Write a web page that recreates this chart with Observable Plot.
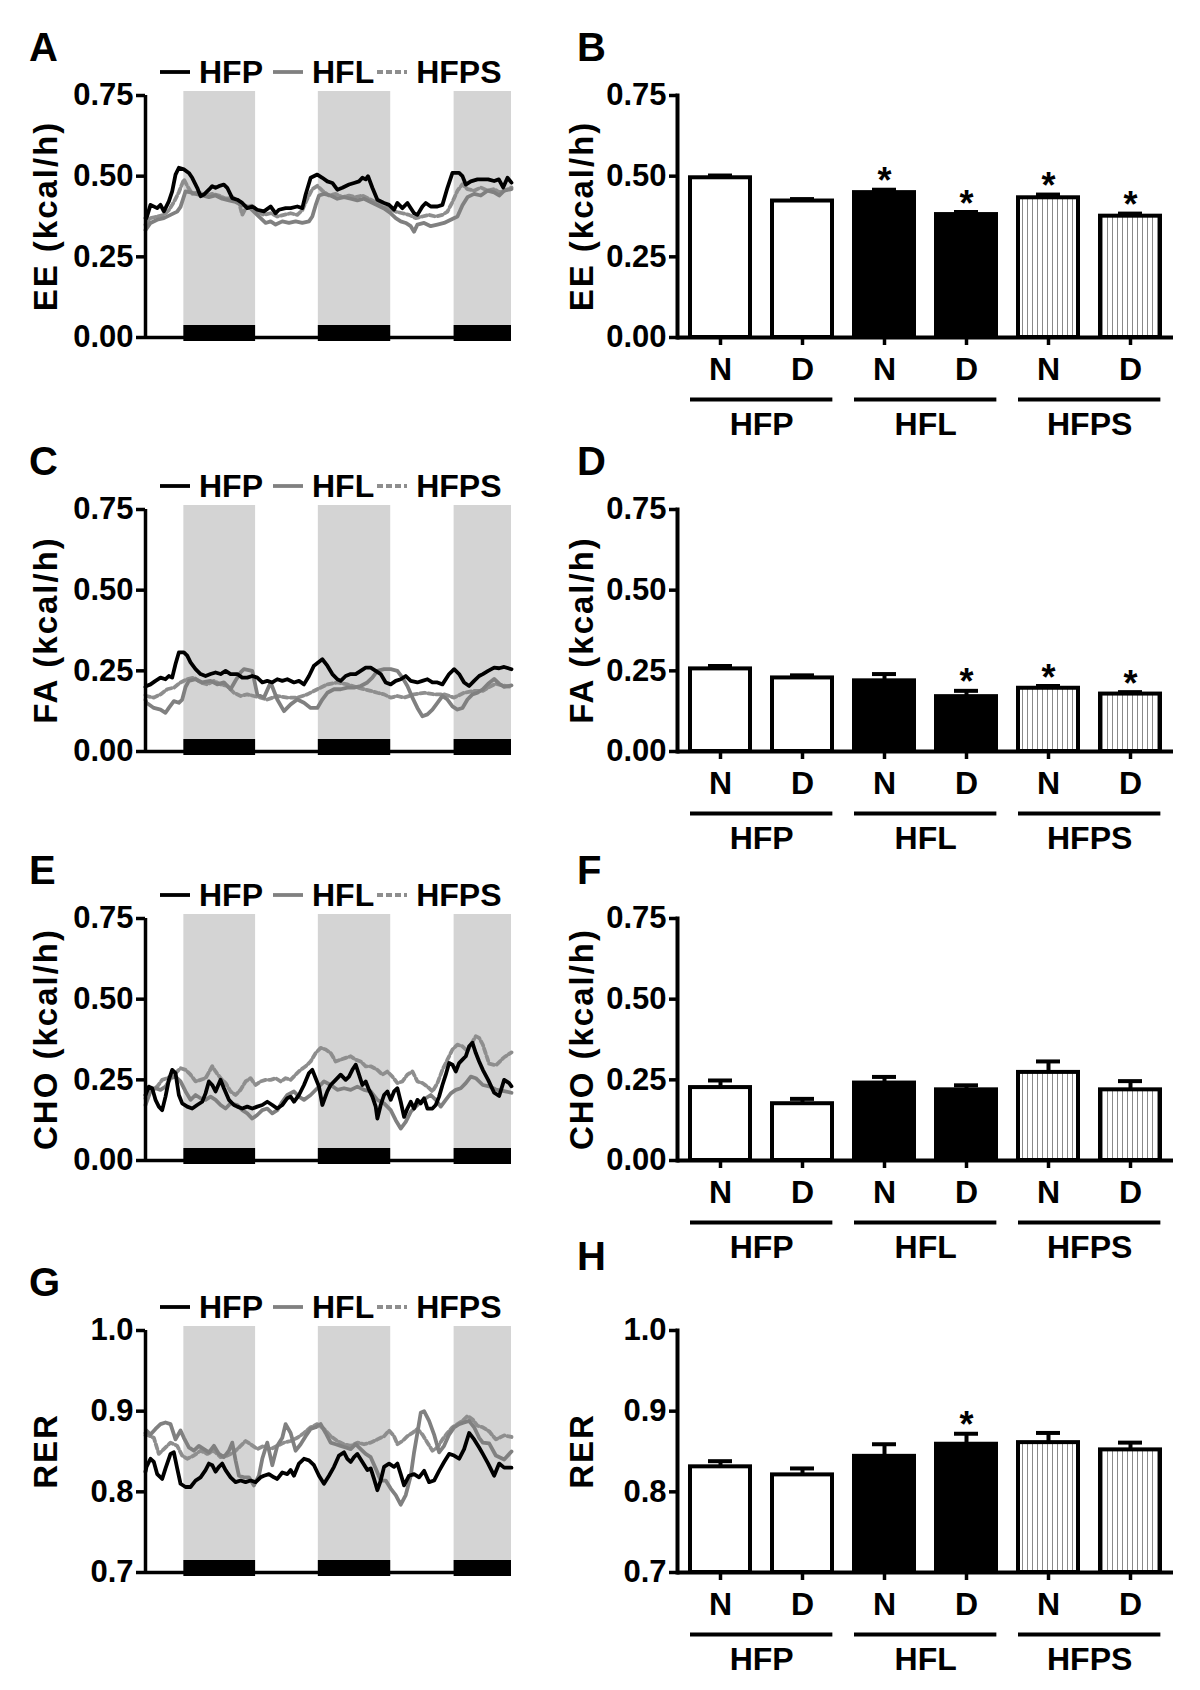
<!DOCTYPE html>
<html>
<head>
<meta charset="utf-8">
<script src="https://cdn.jsdelivr.net/npm/d3@7"></script>
<script src="https://cdn.jsdelivr.net/npm/@observablehq/plot@0.6"></script>
<style>
  body { margin: 0; background: #fff; }
  #fig { position: relative; width: 1200px; height: 1690px; background: #fff;
         font-family: "Liberation Sans", Arial, sans-serif; font-weight: bold; color: #000; }
  .abs { position: absolute; }
  .letter { font-size: 40px; line-height: 1; transform: translateY(-50%); }
  .ytitle { font-size: 33px; letter-spacing: 2px; line-height: 1; white-space: nowrap; transform: translate(-50%, -50%) rotate(-90deg); }
  .legend { display: flex; align-items: center; font-size: 32px; line-height: 1; height: 34px; transform: translateY(-50%); }
  .legend svg { display: block; }
</style>
</head>
<body>
<div id="fig"></div>
<script>
// ---------- time course data: [time (arbitrary units), value] ----------
const darkStart = [115, 518, 925];
const darkEnd = [330, 735, 1097];
const tMax = 1097;

const eeHFP = [[0,0.37],[3,0.370],[15,0.411],[35,0.401],[45,0.411],[55,0.391],[70,0.422],[80,0.453],[90,0.505],[100,0.526],[115,0.521],[130,0.510],[140,0.495],[155,0.464],[165,0.438],[175,0.443],[190,0.458],[200,0.469],[210,0.464],[220,0.469],[235,0.474],[245,0.464],[260,0.432],[275,0.427],[290,0.417],[305,0.401],[320,0.406],[335,0.396],[355,0.391],[375,0.406],[390,0.385],[400,0.396],[420,0.401],[435,0.401],[455,0.406],[470,0.401],[480,0.443],[495,0.495],[515,0.505],[530,0.495],[545,0.484],[560,0.479],[575,0.458],[590,0.464],[610,0.474],[625,0.479],[640,0.484],[650,0.495],[660,0.490],[667,0.500],[680,0.464],[695,0.427],[715,0.417],[730,0.411],[745,0.396],[755,0.417],[770,0.401],[785,0.417],[805,0.385],[815,0.380],[830,0.406],[840,0.417],[855,0.406],[875,0.406],[890,0.411],[905,0.464],[920,0.510],[940,0.510],[950,0.500],[960,0.474],[975,0.484],[995,0.490],[1011,0.490],[1027,0.49],[1045,0.485],[1059,0.49],[1072,0.465],[1085,0.495],[1097,0.48]];
const eeHFL = [[0,0.333],[15,0.355],[35,0.365],[55,0.37],[75,0.38],[95,0.39],[105,0.405],[120,0.453],[135,0.45],[150,0.445],[170,0.44],[190,0.435],[210,0.44],[230,0.43],[250,0.425],[270,0.42],[290,0.41],[310,0.405],[330,0.385],[345,0.37],[360,0.355],[375,0.36],[390,0.35],[410,0.36],[430,0.355],[450,0.36],[470,0.355],[490,0.36],[500,0.375],[510,0.41],[520,0.44],[535,0.445],[555,0.44],[575,0.43],[595,0.435],[615,0.43],[635,0.425],[655,0.43],[675,0.42],[695,0.41],[715,0.40],[735,0.385],[750,0.37],[765,0.36],[780,0.355],[795,0.345],[805,0.328],[815,0.35],[835,0.355],[855,0.345],[875,0.35],[895,0.355],[915,0.365],[935,0.375],[950,0.41],[965,0.435],[985,0.445],[1005,0.44],[1025,0.455],[1045,0.45],[1060,0.44],[1075,0.455],[1097,0.46]];
const eeHFPS = [[0,0.35],[15,0.37],[35,0.375],[55,0.38],[70,0.395],[85,0.42],[100,0.45],[115,0.49],[125,0.47],[140,0.445],[160,0.45],[180,0.44],[200,0.445],[220,0.44],[240,0.43],[260,0.435],[280,0.42],[290,0.38],[300,0.40],[320,0.41],[335,0.39],[355,0.38],[375,0.385],[395,0.375],[415,0.38],[435,0.385],[455,0.38],[470,0.395],[485,0.43],[500,0.46],[515,0.47],[530,0.455],[550,0.44],[570,0.445],[590,0.435],[610,0.44],[630,0.435],[650,0.44],[670,0.43],[690,0.42],[710,0.405],[730,0.40],[750,0.39],[770,0.385],[790,0.38],[810,0.37],[830,0.375],[850,0.38],[870,0.375],[890,0.38],[905,0.39],[920,0.42],[935,0.455],[950,0.475],[965,0.46],[985,0.455],[1005,0.465],[1025,0.455],[1045,0.46],[1060,0.45],[1075,0.455],[1097,0.465]];

const faHFP = [[0,0.20],[3,0.203],[15,0.208],[30,0.219],[45,0.229],[60,0.224],[70,0.234],[80,0.229],[90,0.271],[100,0.307],[115,0.307],[125,0.297],[135,0.276],[150,0.255],[165,0.240],[180,0.234],[195,0.240],[210,0.245],[225,0.240],[240,0.25],[255,0.240],[275,0.240],[290,0.229],[305,0.229],[320,0.234],[335,0.229],[350,0.214],[365,0.219],[380,0.214],[395,0.224],[410,0.219],[425,0.224],[445,0.214],[460,0.219],[475,0.208],[490,0.234],[505,0.266],[530,0.286],[545,0.266],[560,0.240],[575,0.224],[585,0.219],[600,0.234],[615,0.240],[630,0.240],[645,0.25],[660,0.26],[675,0.26],[690,0.25],[705,0.240],[720,0.214],[735,0.208],[750,0.219],[765,0.224],[780,0.234],[795,0.219],[815,0.214],[830,0.219],[845,0.224],[860,0.214],[875,0.214],[890,0.208],[910,0.240],[925,0.255],[940,0.240],[955,0.214],[970,0.203],[985,0.219],[1000,0.234],[1011,0.240],[1027,0.25],[1045,0.26],[1060,0.258],[1075,0.262],[1097,0.255]];
const faHFL = [[0,0.16],[3,0.151],[25,0.135],[45,0.130],[60,0.120],[70,0.135],[85,0.156],[100,0.151],[110,0.161],[120,0.20],[130,0.219],[150,0.224],[170,0.214],[195,0.219],[215,0.208],[235,0.214],[255,0.193],[270,0.22],[285,0.245],[295,0.255],[320,0.25],[335,0.177],[355,0.167],[375,0.214],[395,0.161],[415,0.125],[435,0.146],[455,0.161],[475,0.151],[495,0.135],[515,0.135],[530,0.161],[545,0.182],[565,0.193],[585,0.193],[605,0.198],[625,0.198],[645,0.203],[665,0.214],[680,0.229],[695,0.25],[715,0.255],[735,0.255],[755,0.25],[770,0.229],[785,0.203],[800,0.167],[815,0.135],[830,0.109],[845,0.115],[860,0.130],[875,0.151],[890,0.172],[905,0.161],[920,0.140],[935,0.130],[950,0.135],[965,0.161],[980,0.177],[995,0.182],[1011,0.193],[1027,0.21],[1045,0.225],[1060,0.21],[1075,0.20],[1097,0.205]];
const faHFPS = [[0,0.175],[3,0.172],[25,0.167],[45,0.177],[65,0.193],[85,0.198],[105,0.214],[125,0.224],[145,0.229],[165,0.214],[185,0.208],[205,0.219],[225,0.208],[245,0.203],[265,0.182],[285,0.172],[305,0.177],[325,0.172],[345,0.167],[365,0.161],[395,0.172],[425,0.167],[455,0.167],[485,0.177],[515,0.193],[545,0.208],[575,0.214],[605,0.208],[635,0.198],[655,0.193],[675,0.188],[695,0.182],[715,0.177],[735,0.167],[755,0.172],[775,0.167],[805,0.177],[835,0.182],[865,0.177],[895,0.177],[925,0.167],[955,0.182],[985,0.188],[1011,0.188],[1030,0.20],[1050,0.21],[1070,0.205],[1097,0.20]];

const choHFP = [[0,0.203],[10,0.229],[20,0.224],[30,0.188],[40,0.167],[50,0.156],[60,0.198],[70,0.25],[80,0.281],[90,0.271],[100,0.203],[110,0.177],[125,0.167],[140,0.161],[155,0.172],[170,0.182],[180,0.208],[190,0.245],[200,0.234],[210,0.214],[225,0.25],[235,0.224],[250,0.188],[265,0.172],[275,0.167],[290,0.161],[305,0.167],[320,0.161],[335,0.167],[350,0.172],[365,0.182],[380,0.172],[395,0.161],[410,0.172],[425,0.193],[435,0.198],[445,0.182],[460,0.203],[475,0.234],[490,0.271],[500,0.281],[510,0.255],[520,0.229],[530,0.172],[545,0.214],[555,0.234],[570,0.25],[585,0.266],[600,0.25],[610,0.26],[620,0.281],[630,0.297],[640,0.266],[650,0.234],[660,0.245],[670,0.219],[680,0.198],[690,0.167],[695,0.130],[705,0.172],[715,0.203],[725,0.214],[735,0.188],[745,0.214],[755,0.224],[765,0.182],[775,0.135],[785,0.161],[795,0.182],[805,0.161],[815,0.188],[825,0.177],[835,0.193],[845,0.161],[860,0.161],[870,0.172],[880,0.198],[890,0.234],[900,0.266],[910,0.302],[920,0.297],[930,0.276],[940,0.302],[950,0.3125],[960,0.323],[970,0.354],[980,0.365],[990,0.333],[1000,0.307],[1011,0.281],[1027,0.25],[1045,0.21],[1060,0.20],[1075,0.25],[1090,0.24],[1097,0.23]];
const choHFL = [[0,0.172],[15,0.214],[30,0.224],[45,0.219],[60,0.229],[75,0.255],[90,0.26],[105,0.245],[120,0.214],[135,0.188],[150,0.203],[165,0.193],[180,0.188],[195,0.198],[210,0.188],[225,0.172],[240,0.161],[255,0.177],[275,0.172],[290,0.156],[305,0.146],[320,0.130],[335,0.141],[350,0.156],[365,0.161],[380,0.146],[395,0.156],[410,0.182],[425,0.203],[445,0.214],[460,0.198],[475,0.188],[495,0.203],[515,0.224],[535,0.245],[555,0.234],[575,0.219],[595,0.224],[615,0.219],[635,0.229],[655,0.219],[675,0.214],[695,0.188],[715,0.177],[735,0.156],[750,0.125],[765,0.099],[780,0.120],[795,0.151],[810,0.167],[825,0.182],[840,0.193],[855,0.203],[870,0.188],[885,0.167],[900,0.188],[915,0.208],[930,0.219],[945,0.224],[960,0.24],[975,0.26],[990,0.255],[1011,0.234],[1030,0.23],[1050,0.22],[1075,0.215],[1097,0.21]];
const choHFPS = [[0,0.193],[15,0.219],[35,0.229],[50,0.25],[65,0.255],[85,0.266],[105,0.286],[120,0.281],[135,0.266],[150,0.245],[165,0.25],[180,0.255],[200,0.292],[210,0.276],[225,0.255],[240,0.24],[255,0.214],[270,0.203],[285,0.219],[300,0.245],[315,0.255],[330,0.234],[345,0.245],[360,0.25],[375,0.25],[390,0.255],[405,0.245],[420,0.255],[435,0.25],[450,0.266],[465,0.281],[480,0.292],[495,0.307],[510,0.333],[525,0.349],[540,0.344],[555,0.333],[570,0.307],[585,0.3125],[600,0.318],[615,0.323],[630,0.3125],[645,0.307],[660,0.292],[675,0.292],[695,0.281],[710,0.266],[725,0.276],[740,0.26],[755,0.24],[770,0.245],[785,0.266],[800,0.276],[815,0.245],[830,0.24],[845,0.229],[860,0.214],[875,0.24],[890,0.281],[905,0.3125],[920,0.344],[935,0.359],[950,0.354],[965,0.339],[975,0.359],[990,0.385],[1000,0.38],[1011,0.359],[1030,0.30],[1050,0.295],[1075,0.32],[1097,0.335]];

const rerHFP = [[0,0.825],[3,0.831],[15,0.841],[25,0.837],[35,0.822],[50,0.816],[60,0.829],[75,0.847],[85,0.849],[95,0.829],[105,0.810],[120,0.806],[135,0.806],[150,0.814],[165,0.818],[180,0.827],[190,0.835],[200,0.833],[210,0.825],[220,0.831],[230,0.835],[240,0.827],[255,0.818],[270,0.812],[285,0.814],[300,0.812],[315,0.814],[330,0.812],[345,0.818],[355,0.820],[370,0.822],[385,0.818],[395,0.816],[410,0.824],[425,0.822],[435,0.827],[445,0.820],[460,0.835],[475,0.841],[490,0.839],[505,0.833],[520,0.820],[535,0.810],[550,0.820],[565,0.831],[580,0.845],[595,0.849],[605,0.841],[615,0.837],[625,0.843],[635,0.847],[650,0.837],[665,0.827],[675,0.829],[685,0.816],[695,0.802],[705,0.814],[715,0.831],[730,0.835],[745,0.831],[755,0.835],[765,0.822],[775,0.808],[790,0.820],[805,0.822],[820,0.818],[835,0.826],[850,0.812],[865,0.814],[880,0.826],[895,0.837],[910,0.847],[925,0.845],[940,0.841],[955,0.853],[970,0.873],[985,0.865],[1000,0.855],[1011,0.847],[1027,0.835],[1045,0.82],[1060,0.835],[1075,0.83],[1097,0.83]];
const rerHFL = [[0,0.873],[3,0.876],[15,0.871],[30,0.878],[45,0.884],[60,0.886],[75,0.884],[90,0.865],[105,0.876],[115,0.867],[130,0.855],[145,0.851],[160,0.857],[175,0.853],[190,0.849],[205,0.857],[220,0.847],[235,0.843],[250,0.851],[260,0.861],[270,0.839],[280,0.820],[295,0.818],[310,0.818],[325,0.808],[340,0.820],[350,0.841],[365,0.861],[380,0.833],[395,0.857],[410,0.867],[420,0.884],[435,0.873],[450,0.851],[465,0.859],[480,0.869],[495,0.878],[510,0.880],[525,0.884],[540,0.873],[555,0.861],[570,0.859],[585,0.857],[600,0.855],[615,0.853],[630,0.859],[645,0.853],[660,0.847],[675,0.843],[690,0.829],[705,0.814],[720,0.814],[735,0.804],[750,0.796],[765,0.784],[780,0.796],[795,0.820],[805,0.849],[815,0.873],[825,0.898],[835,0.900],[850,0.888],[865,0.871],[880,0.849],[895,0.857],[910,0.871],[925,0.880],[940,0.884],[955,0.886],[970,0.888],[985,0.880],[1000,0.867],[1011,0.861],[1030,0.86],[1050,0.845],[1075,0.84],[1097,0.85]];
const rerHFPS = [[0,0.87],[3,0.871],[25,0.867],[40,0.847],[55,0.853],[75,0.861],[95,0.857],[110,0.845],[125,0.841],[145,0.845],[165,0.851],[185,0.847],[205,0.851],[225,0.843],[245,0.845],[265,0.849],[285,0.857],[300,0.863],[315,0.859],[335,0.853],[355,0.857],[375,0.853],[395,0.857],[415,0.861],[435,0.863],[455,0.867],[475,0.873],[495,0.880],[515,0.884],[535,0.878],[555,0.869],[575,0.863],[595,0.859],[615,0.857],[635,0.861],[655,0.859],[675,0.861],[695,0.865],[715,0.869],[730,0.876],[745,0.869],[755,0.859],[770,0.863],[785,0.869],[800,0.873],[815,0.878],[830,0.871],[845,0.861],[860,0.851],[875,0.855],[890,0.865],[905,0.873],[920,0.880],[935,0.884],[950,0.888],[965,0.894],[980,0.890],[995,0.882],[1011,0.880],[1030,0.875],[1050,0.865],[1075,0.87],[1097,0.868]];

// ---------- bar chart data ----------
const barGroups = ["HFP", "HFP", "HFL", "HFL", "HFPS", "HFPS"];
const barPeriods = ["N", "D", "N", "D", "N", "D"];
const eeMean = [0.495, 0.423, 0.449, 0.381, 0.433, 0.376];
const eeSem = [0.007, 0.006, 0.009, 0.008, 0.010, 0.008];
const eeSig = [0, 0, 1, 1, 1, 1];
const faMean = [0.256, 0.228, 0.219, 0.170, 0.196, 0.178];
const faSem = [0.009, 0.008, 0.021, 0.018, 0.007, 0.006];
const faSig = [0, 0, 0, 1, 1, 1];
const choMean = [0.226, 0.176, 0.240, 0.219, 0.273, 0.219];
const choSem = [0.022, 0.015, 0.019, 0.014, 0.034, 0.027];
const choSig = [0, 0, 0, 0, 0, 0];
const rerMean = [0.831, 0.821, 0.844, 0.859, 0.861, 0.852];
const rerSem = [0.007, 0.008, 0.015, 0.013, 0.012, 0.009];
const rerSig = [0, 0, 0, 1, 0, 0];

const seriesNames = ["HFP", "HFL", "HFPS"];
const rowTop = [95, 509, 918, 1330];

const panels = [
  {L: "A", R: "B", title: "EE (kcal/h)", domain: [0, 0.75], ticks: [0, 0.25, 0.5, 0.75], fmt: ".2f",
   lines: [eeHFP, eeHFL, eeHFPS], mean: eeMean, sem: eeSem, sig: eeSig},
  {L: "C", R: "D", title: "FA (kcal/h)", domain: [0, 0.75], ticks: [0, 0.25, 0.5, 0.75], fmt: ".2f",
   lines: [faHFP, faHFL, faHFPS], mean: faMean, sem: faSem, sig: faSig},
  {L: "E", R: "F", title: "CHO (kcal/h)", domain: [0, 0.75], ticks: [0, 0.25, 0.5, 0.75], fmt: ".2f",
   lines: [choHFP, choHFL, choHFPS], mean: choMean, sem: choSem, sig: choSig},
  {L: "G", R: "H", title: "RER", domain: [0.7, 1.0], ticks: [0.7, 0.8, 0.9, 1.0], fmt: ".1f",
   lines: [rerHFP, rerHFL, rerHFPS], mean: rerMean, sem: rerSem, sig: rerSig}
];

// ---------- styles ----------
const FONT = '"Liberation Sans", Arial, sans-serif';
const lineStyles = [
  {stroke: "#000000", dash: null},
  {stroke: "#808080", dash: null},
  {stroke: "#8e8e8e", dash: "5,3"}
];
const PLOT_H = 242;
const fig = document.getElementById("fig");

// hatch pattern for HFPS bars
const NS = "http://www.w3.org/2000/svg";
const defsSvg = document.createElementNS(NS, "svg");
defsSvg.setAttribute("width", "0"); defsSvg.setAttribute("height", "0");
defsSvg.style.position = "absolute";
defsSvg.innerHTML = '<defs><pattern id="vhatch" width="5" height="8" patternUnits="userSpaceOnUse">' +
  '<rect width="5" height="8" fill="white"/><line x1="2.5" y1="0" x2="2.5" y2="8" stroke="#8a8a8a" stroke-width="1"/></pattern></defs>';
fig.appendChild(defsSvg);

function place(el, left, top) {
  el.classList.add("abs");
  el.style.left = left + "px";
  el.style.top = top + "px";
  fig.appendChild(el);
  return el;
}
function textDiv(cls, txt) {
  const d = document.createElement("div");
  d.className = cls; d.textContent = txt; return d;
}
function legendSample(st) {
  const s = document.createElementNS(NS, "svg");
  s.setAttribute("width", "30"); s.setAttribute("height", "8");
  s.innerHTML = `<line x1="0" y1="4" x2="30" y2="4" stroke="${st.stroke}" stroke-width="3.8"${st.dash ? ` stroke-dasharray="6,3"` : ""}/>`;
  return s;
}

const svgStyle = {fontFamily: FONT, fontWeight: "bold", fontSize: "31px", color: "black", background: "transparent", overflow: "visible"};

function linePlot(p) {
  const [y0, y1] = p.domain;
  const dark = darkStart.map((s, i) => ({start: s, end: darkEnd[i]}));
  const marks = [Plot.rect(dark, {x1: "start", x2: "end", fill: "#d4d4d4"})];
  [2, 1, 0].forEach(k => {
    marks.push(Plot.line(p.lines[k], {x: d => d[0], y: d => d[1], stroke: lineStyles[k].stroke,
      strokeWidth: 3.8, strokeDasharray: lineStyles[k].dash || undefined, strokeLinejoin: "round"}));
  });
  marks.push(
    Plot.rect(dark, {x1: "start", x2: "end", fill: "black", insetTop: PLOT_H + 4 - 12, insetBottom: -4}),
    Plot.ruleY([y0], {strokeWidth: 3.5}),
    Plot.ruleX([0], {y1: y0, y2: y1, strokeWidth: 3.5}),
    Plot.axisY({ticks: p.ticks, tickFormat: p.fmt, tickSize: 9, tickPadding: 3, strokeWidth: 3.5, label: null})
  );
  return Plot.plot({
    width: 520, height: 10 + 4 + PLOT_H + 22,
    marginLeft: 145, marginRight: 9, marginTop: 10, marginBottom: 22,
    style: svgStyle,
    x: {domain: [0, tMax], axis: null},
    y: {domain: p.domain, insetTop: 4, axis: null},
    marks
  });
}

function barPlot(p) {
  const [y0, y1] = p.domain;
  const rows = barGroups.map((g, i) => ({key: g + " " + barPeriods[i], group: g, period: barPeriods[i],
    value: p.mean[i], top: p.mean[i] + p.sem[i], sig: p.sig[i]}));
  const keys = rows.map(d => d.key);
  const W = 620 - 117 - 7, PI = 0.27, PO = 0.146;
  const step = W / (keys.length - PI + 2 * PO);
  const firsts = rows.filter(d => d.period === "N");
  const fills = {HFP: "white", HFL: "black", HFPS: "url(#vhatch)"};
  const marks = [];
  ["HFP", "HFL", "HFPS"].forEach(g => {
    marks.push(Plot.barY(rows.filter(d => d.group === g), {x: "key", y1: y0, y2: "value",
      fill: fills[g], stroke: "black", strokeWidth: 4}));
  });
  marks.push(
    Plot.ruleX(rows, {x: "key", y1: "value", y2: "top", strokeWidth: 4}),
    Plot.tickY(rows, {x: "key", y: "top", strokeWidth: 4, insetLeft: 18, insetRight: 18}),
    Plot.text(rows.filter(d => d.sig), {x: "key", y: "top", text: () => "*", dy: -8, fontSize: 36}),
    Plot.ruleY([y0], {strokeWidth: 4}),
    Plot.frame({anchor: "left", strokeWidth: 4}),
    Plot.axisY({ticks: p.ticks, tickFormat: p.fmt, tickSize: 8, tickPadding: 3, strokeWidth: 3.5, label: null}),
    Plot.axisX({tickSize: 8, tickPadding: 12, strokeWidth: 3.5, tickFormat: k => k.split(" ")[1], label: null, fontSize: 32}),
    Plot.tickY(firsts, {x: "key", y: y0, dy: 62, insetRight: -step, strokeWidth: 4}),
    Plot.text(firsts, {x: "key", y: y0, text: "group", dx: step / 2, dy: 87, fontSize: 32})
  );
  return Plot.plot({
    width: 620, height: 14 + PLOT_H + 110,
    marginLeft: 117, marginRight: 7, marginTop: 14, marginBottom: 110,
    style: svgStyle,
    x: {type: "band", domain: keys, paddingInner: PI, paddingOuter: PO, axis: null},
    y: {domain: p.domain, axis: null},
    marks
  });
}

panels.forEach((p, r) => {
  const top = rowTop[r];
  place(linePlot(p), 0, top - 14);
  place(barPlot(p), 560, top - 14);
  // panel letters
  place(textDiv("letter", p.L), 29, top - 48);
  place(textDiv("letter", p.R), 577, r === 3 ? top - 74 : top - 48);
  // y titles
  place(textDiv("ytitle", p.title), 45, top + PLOT_H / 2);
  place(textDiv("ytitle", p.title), 581, top + PLOT_H / 2);
  // legend
  const lg = document.createElement("div");
  lg.className = "legend";
  seriesNames.forEach((name, k) => {
    const s = legendSample(lineStyles[k]);
    s.style.marginRight = "9px";
    lg.appendChild(s);
    const t = document.createElement("span");
    t.textContent = name;
    t.style.marginRight = k === 0 ? "10px" : (k === 1 ? "3px" : "0");
    lg.appendChild(t);
  });
  place(lg, 160, top - 23);
});
</script>
</body>
</html>
